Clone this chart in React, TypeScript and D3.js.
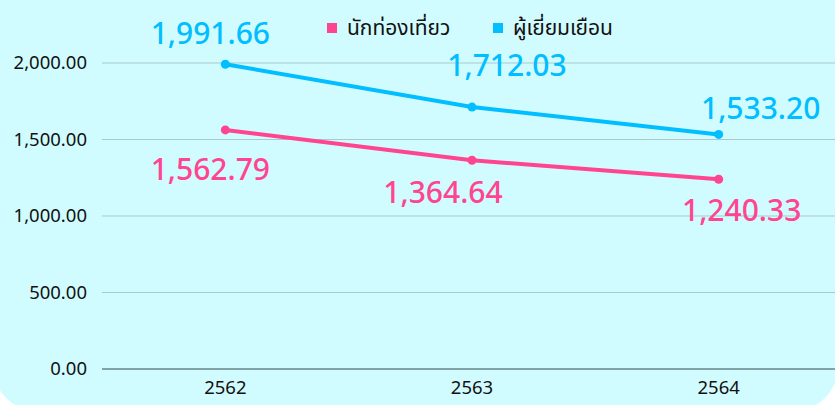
import React, { useEffect, useRef } from 'react';
import * as d3 from 'd3';

const years = ['2562', '2563', '2564'];
const tourists = [1562.79, 1364.64, 1240.33];
const visitors = [1991.66, 1712.03, 1533.2];
const yTicks = [0, 500, 1000, 1500, 2000];
const seriesNames = ['นักท่องเที่ยว', 'ผู้เยี่ยมเยือน'];

// hand placed label offsets (dx, dy) relative to each point
const touristLabelOffset = [
  [-15, 50],
  [-29, 43],
  [23, 42],
];
const visitorLabelOffset = [
  [-15, -20],
  [35, -31],
  [42, -15],
];

const W = 835;
const H = 405;
const PINK = '#FF4590';
const BLUE = '#00BEFF';
const FONT = "'Noto Sans', 'Noto Sans Thai', 'Lato', sans-serif";

const App: React.FC = () => {
  const svgRef = useRef<SVGSVGElement | null>(null);

  useEffect(() => {
    const svg = d3.select(svgRef.current);
    svg.selectAll('*').remove();

    svg
      .append('rect')
      .attr('x', -8)
      .attr('y', -60)
      .attr('width', W + 12)
      .attr('height', H + 67)
      .attr('rx', 48)
      .attr('fill', '#D1FCFF');

    const x = d3.scaleBand<string>().domain(years).range([102, 842]);
    const y = d3.scaleLinear().domain([0, 2000]).range([369, 63]);
    const cx = (d: string) => (x(d) as number) + x.bandwidth() / 2;

    // grid
    svg
      .append('g')
      .selectAll('line')
      .data(yTicks)
      .enter()
      .append('line')
      .attr('x1', 102)
      .attr('x2', W)
      .attr('y1', (d) => y(d))
      .attr('y2', (d) => y(d))
      .attr('stroke', (d) => (d === 0 ? '#7FA3A6' : '#A9C9CC'))
      .attr('stroke-width', (d) => (d === 0 ? 2 : 1));

    svg
      .append('g')
      .selectAll('text')
      .data(yTicks)
      .enter()
      .append('text')
      .attr('x', 87)
      .attr('y', (d) => y(d))
      .attr('dy', '0.35em')
      .attr('text-anchor', 'end')
      .attr('font-family', FONT)
      .attr('font-size', 18.5)
      .attr('fill', '#111')
      .text((d) => d3.format(',.2f')(d));

    svg
      .append('g')
      .selectAll('text')
      .data(years)
      .enter()
      .append('text')
      .attr('x', (d) => cx(d))
      .attr('y', 394)
      .attr('text-anchor', 'middle')
      .attr('font-family', FONT)
      .attr('font-size', 18.5)
      .attr('fill', '#111')
      .text((d) => d);

    const line = d3
      .line<number>()
      .x((_, i) => cx(years[i]))
      .y((d) => y(d));

    const series = [
      { values: tourists, color: PINK, offs: touristLabelOffset },
      { values: visitors, color: BLUE, offs: visitorLabelOffset },
    ];

    series.forEach((s) => {
      svg
        .append('path')
        .datum(s.values)
        .attr('d', line)
        .attr('fill', 'none')
        .attr('stroke', s.color)
        .attr('stroke-width', 4)
        .attr('stroke-linecap', 'round');

      svg
        .append('g')
        .selectAll('circle')
        .data(s.values)
        .enter()
        .append('circle')
        .attr('cx', (_, i) => cx(years[i]))
        .attr('cy', (d) => y(d))
        .attr('r', 4.5)
        .attr('fill', s.color);

      svg
        .append('g')
        .selectAll('text')
        .data(s.values)
        .enter()
        .append('text')
        .attr('x', (_, i) => cx(years[i]) + s.offs[i][0])
        .attr('y', (d, i) => y(d) + s.offs[i][1])
        .attr('text-anchor', 'middle')
        .attr('font-family', FONT)
        .attr('font-size', 30)
        .attr('font-weight', 500)
        .attr('fill', s.color)
        .text((d) => d3.format(',.2f')(d));
    });

    // legend
    const legend = svg
      .append('g')
      .selectAll('g')
      .data(seriesNames)
      .enter()
      .append('g')
      .attr('transform', (_, i) => `translate(${[327, 493][i]}, 28)`);

    legend
      .append('rect')
      .attr('x', 0)
      .attr('y', -5)
      .attr('width', 10)
      .attr('height', 10)
      .attr('fill', (_, i) => [PINK, BLUE][i]);

    legend
      .append('text')
      .attr('x', 20)
      .attr('dy', '0.35em')
      .attr('font-family', FONT)
      .attr('font-size', 21)
      .attr('fill', '#111')
      .text((d) => d);
  }, []);

  return (
    <svg
      ref={svgRef}
      width={W}
      height={H}
      style={{ position: 'absolute', left: 0, top: 0, display: 'block' }}
    />
  );
};

export default App;
